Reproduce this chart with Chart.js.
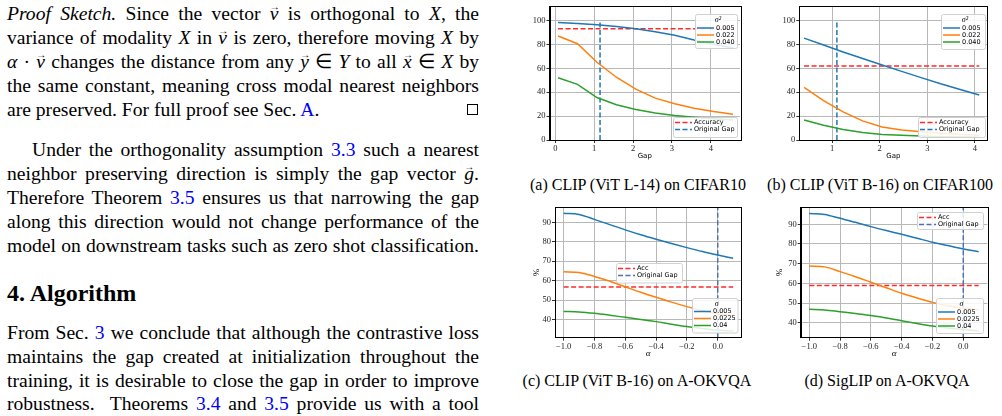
<!DOCTYPE html>
<html>
<head>
<meta charset="utf-8">
<script src="https://cdn.jsdelivr.net/npm/chart.js@4.4.1/dist/chart.umd.min.js"></script>
<style>
    html, body { margin: 0; padding: 0; background: #fff; }
    body { width: 1002px; height: 416px; overflow: hidden; position: relative; font-family: "Liberation Serif", "Times New Roman", serif; color: #000; }
    .ln { position: absolute; left: 7px; width: 472px; font-size: 19.6px; line-height: 24px; height: 24px; white-space: nowrap; }
    .ln.ind { left: 32px; width: 447px; }
    .ln a { color: #0000ff; text-decoration: none; }
    .h { position: absolute; left: 7px; top: 281px; font-size: 24px; line-height: 24px; font-weight: bold; }
    .v { position: relative; display: inline-block; font-style: italic; }
    .v::before { content: "\2192"; position: absolute; left: 0; right: 0; top: 1px; line-height: 8px; text-align: center; font-size: 10px; font-style: normal; }
    .cal { font-style: italic; }
    .qed { position: absolute; left: 467px; top: 104px; width: 11px; height: 11px; border: 1px solid #000; box-sizing: border-box; }
    .cap { position: absolute; font-size: 16px; line-height: 20px; white-space: nowrap; transform: translateX(-50%); }
    canvas { position: absolute; }
</style>
</head>
<body>

<div class="ln" style="top:2px"><i>Proof Sketch.</i> Since the vector <span class="v">v</span> is orthogonal to <span class="cal">X</span>, the</div>
<div class="ln" style="top:26px">variance of modality <span class="cal">X</span> in <span class="v">v</span> is zero, therefore moving <span class="cal">X</span> by</div>
<div class="ln" style="top:50px"><i>α</i> · <span class="v">v</span> changes the distance from any <span class="v">y</span> ∈ <span class="cal">Y</span> to all <span class="v">x</span> ∈ <span class="cal">X</span> by</div>
<div class="ln" style="top:74px">the same constant, meaning cross modal nearest neighbors</div>
<div class="ln last" style="top:98px">are preserved. For full proof see Sec. <a>A</a>.</div>
<div class="qed"></div>

<div class="ln ind" style="top:138px">Under the orthogonality assumption <a>3.3</a> such a nearest</div>
<div class="ln" style="top:162px">neighbor preserving direction is simply the gap vector <span class="v">g</span>.</div>
<div class="ln" style="top:186px">Therefore Theorem <a>3.5</a> ensures us that narrowing the gap</div>
<div class="ln" style="top:210px">along this direction would not change performance of the</div>
<div class="ln" style="top:234px">model on downstream tasks such as zero shot classification.</div>

<div class="h">4. Algorithm</div>

<div class="ln" style="top:321px">From Sec. <a>3</a> we conclude that although the contrastive loss</div>
<div class="ln" style="top:345px">maintains the gap created at initialization throughout the</div>
<div class="ln" style="top:369px">training, it is desirable to close the gap in order to improve</div>
<div class="ln" style="top:392px">robustness.&nbsp; Theorems <a>3.4</a> and <a>3.5</a> provide us with a tool</div>

<canvas id="chartA" width="240" height="165" style="left:510px;top:0px"></canvas>
<canvas id="chartB" width="242" height="165" style="left:760px;top:0px"></canvas>
<canvas id="chartC" width="240" height="165" style="left:510px;top:195px"></canvas>
<canvas id="chartD" width="242" height="165" style="left:760px;top:195px"></canvas>

<div class="cap" style="left:638px;top:175px">(a) CLIP (ViT L-14) on CIFAR10</div>
<div class="cap" style="left:880px;top:175px">(b) CLIP (ViT B-16) on CIFAR100</div>
<div class="cap" style="left:637px;top:371px">(c) CLIP (ViT B-16) on A-OKVQA</div>
<div class="cap" style="left:887px;top:371px">(d) SigLIP on A-OKVQA</div>

<script>
// (a) CLIP ViT L-14 / CIFAR10
const gapA = [0.07, 0.57, 1.07, 1.57, 2.07, 2.57, 3.07, 3.57, 4.07, 4.57];
const a005 = [98.3, 97.5, 96.4, 95.0, 93.1, 90.6, 87.6, 83.6, 80.0, 77.0];
const a022 = [87.0, 80.5, 65.0, 52.5, 42.5, 35.0, 30.3, 26.5, 23.8, 21.6];
const a040 = [52.0, 46.5, 35.5, 29.5, 25.5, 22.5, 20.5, 19.0, 17.8, 16.8];
const accA = 93;
const origGapA = 1.15;

// (b) CLIP ViT B-16 / CIFAR100
const gapB = [0.41, 0.82, 1.23, 1.64, 2.05, 2.46, 2.87, 3.28, 3.69, 4.09];
const b005 = [85.2, 79.4, 73.6, 68.1, 62.8, 57.4, 52.2, 47.0, 42.2, 37.6];
const b022 = [44.0, 33.0, 23.5, 16.0, 10.8, 8.3, 6.8, 5.6, 4.7, 4.0];
const b040 = [16.8, 12.3, 8.8, 6.3, 4.7, 3.9, 3.3, 2.8, 2.5, 2.2];
const accB = 62;
const origGapB = 1.1;

// (c) CLIP ViT B-16 / A-OKVQA
const alpha = [-1.0, -0.9, -0.8, -0.7, -0.6, -0.5, -0.4, -0.3, -0.2, -0.1, 0.0, 0.1];
const c005 = [94.6, 94.0, 91.5, 88.8, 86.1, 83.6, 81.3, 79.1, 77.0, 75.0, 73.2, 71.5];
const c0225 = [64.6, 64.2, 62.2, 59.7, 56.9, 54.1, 51.5, 49.0, 46.7, 44.7, 43.0, 42.2];
const c04 = [44.2, 44.0, 43.3, 42.3, 41.2, 40.1, 39.0, 37.7, 36.5, 35.5, 34.6, 34.2];
const accC = 56.8;

// (d) SigLIP / A-OKVQA
const d005 = [95.5, 95.0, 93.0, 91.0, 88.8, 86.8, 84.9, 82.9, 80.9, 79.2, 77.5, 76.1];
const d0225 = [68.8, 68.4, 66.0, 63.4, 60.6, 57.8, 55.0, 52.6, 50.4, 48.7, 47.4, 46.6];
const d04 = [46.9, 46.6, 45.7, 44.8, 43.7, 42.5, 41.1, 39.7, 38.4, 37.4, 36.6, 36.0];
const accD = 59;
const origGapCD = 0.0;

const BLUE = '#1f77b4', ORANGE = '#ff7f0e', GREEN = '#2ca02c', RED = '#ff2a2a';

// justify each text line to the column width (keeps the original line breaks)
document.querySelectorAll('.ln').forEach(el => {
    if (el.classList.contains('last')) return;
    const target = el.clientWidth;
    const range = document.createRange();
    range.selectNodeContents(el);
    const natural = range.getBoundingClientRect().width;
    const spaces = (el.textContent.match(/[ \u00a0]/g) || []).length;
    if (spaces) el.style.wordSpacing = ((target - natural) / spaces) + 'px';
});

function series(label, xs, ys, color, extra) {
    return Object.assign({
        label: label,
        data: xs.map((x, i) => ({ x: x, y: ys[i] })),
        borderColor: color,
        borderWidth: 1.5,
        pointRadius: 0,
        fill: false,
        tension: 0
    }, extra || {});
}

function hLine(label, xs, y, color) {
    return series(label, [xs[0], xs[xs.length - 1]], [y, y], color, { borderDash: [5, 2.5] });
}

function vLine(label, x, y0, y1, color) {
    return series(label, [x, x], [y0, y1], color, { borderDash: [5, 2.5] });
}

// frame + matplotlib style legend boxes
const boxLegend = {
    id: 'boxLegend',
    afterDatasetsDraw(chart, args, opts) {
        const ctx = chart.ctx, a = chart.chartArea;
        ctx.save();
        ctx.strokeStyle = '#000';
        ctx.lineWidth = 1;
        ctx.strokeRect(Math.round(a.left) + 0.5, Math.round(a.top) + 0.5, Math.round(a.right - a.left), Math.round(a.bottom - a.top));
        (opts.boxes || []).forEach(b => {
            ctx.beginPath();
            ctx.roundRect(b.x + 0.5, b.y + 0.5, b.w, b.h, 2);
            ctx.fillStyle = 'rgba(255,255,255,0.85)';
            ctx.fill();
            ctx.strokeStyle = '#d0d0d0';
            ctx.lineWidth = 1;
            ctx.stroke();
            ctx.textBaseline = 'middle';
            if (b.title) {
                ctx.font = 'italic 8px "Liberation Serif"';
                ctx.fillStyle = '#000';
                ctx.textAlign = 'center';
                ctx.fillText(b.title, b.x + b.w / 2 + 2, b.y + 6);
            }
            b.items.forEach((di, k) => {
                const ds = chart.data.datasets[di];
                const yy = b.y + b.first + k * 7;
                ctx.beginPath();
                ctx.setLineDash(ds.borderDash || []);
                ctx.strokeStyle = ds.borderColor;
                ctx.lineWidth = 1.5;
                ctx.moveTo(b.x + 2, yy);
                ctx.lineTo(b.x + 19, yy);
                ctx.stroke();
                ctx.setLineDash([]);
                ctx.font = '6.5px "DejaVu Sans"';
                ctx.textAlign = 'left';
                ctx.fillStyle = '#000';
                ctx.fillText(ds.label, b.x + 21, yy);
            });
        });
        ctx.restore();
    }
};

const tickFont = { family: 'Liberation Serif', size: 8.5 };
const gridOpts = { color: '#b8b8b8', lineWidth: 1, tickColor: '#000', tickLength: 3, tickWidth: 0.8 };

function fmtAlpha(v) {
    if (Math.abs(v) < 1e-9) return '0.0';
    return v.toFixed(1).replace('-', '\u2212');
}

function makeChart(id, p) {
    new Chart(document.getElementById(id), {
        type: 'line',
        data: { datasets: p.datasets },
        plugins: [boxLegend],
        options: {
            responsive: false,
            animation: false,
            events: [],
            layout: { padding: p.padding },
            plugins: {
                legend: { display: false },
                tooltip: { enabled: false },
                boxLegend: { boxes: p.boxes }
            },
            scales: {
                x: {
                    type: 'linear',
                    min: p.xMin, max: p.xMax,
                    grid: gridOpts,
                    border: { color: '#000' },
                    afterFit: s => { s.height = p.xH; },
                    ticks: {
                        stepSize: p.xStep, includeBounds: false, padding: 1, maxRotation: 0,
                        color: '#222', font: tickFont,
                        callback: p.xFmt
                    },
                    title: { display: true, text: p.xTitle, color: '#000', font: p.xTitleFont, padding: { top: 0, bottom: p.xTitlePad } }
                },
                y: {
                    min: p.yMin, max: p.yMax,
                    grid: gridOpts,
                    border: { color: '#000' },
                    afterFit: s => { s.width = p.yW; },
                    ticks: { stepSize: p.yStep, includeBounds: false, padding: 1, color: '#222', font: tickFont },
                    title: p.yTitle ? { display: true, text: p.yTitle, color: '#000', font: { family: 'Liberation Serif', size: 9, lineHeight: 1 }, padding: { top: p.yTitlePad, bottom: 0 } } : { display: false }
                }
            }
        }
    });
}

const gapFont = { family: 'DejaVu Sans', size: 7, lineHeight: 1 };
const alphaFont = { family: 'Liberation Serif', size: 9, style: 'italic', lineHeight: 1 };

makeChart('chartA', {
    datasets: [
        series('0.005', gapA, a005, BLUE),
        series('0.022', gapA, a022, ORANGE),
        series('0.040', gapA, a040, GREEN),
        hLine('Accuracy', gapA, accA, RED),
        vLine('Original Gap', origGapA, 0, 100, BLUE)
    ],
    padding: { left: 0, right: 10, top: 2, bottom: 0 },
    xMin: -0.15, xMax: 4.75, xStep: 1, xH: 25, xTitle: 'Gap', xTitleFont: gapFont, xTitlePad: 5,
    xFmt: v => String(v),
    yMin: 0, yMax: 112, yStep: 20, yW: 39.5,
    boxes: [
        { x: 185, y: 14, w: 42, h: 34, first: 14, title: '\u03c3\u00b2', items: [0, 1, 2] },
        { x: 163, y: 117, w: 64, h: 20, first: 5.5, items: [3, 4] }
    ]
});

makeChart('chartB', {
    datasets: [
        series('0.005', gapB, b005, BLUE),
        series('0.022', gapB, b022, ORANGE),
        series('0.040', gapB, b040, GREEN),
        hLine('Accuracy', gapB, accB, RED),
        vLine('Original Gap', origGapB, 0, 100, BLUE)
    ],
    padding: { left: 0, right: 14.7, top: 2, bottom: 0 },
    xMin: 0.31, xMax: 4.26, xStep: 1, xH: 25, xTitle: 'Gap', xTitleFont: gapFont, xTitlePad: 5,
    xFmt: v => String(v),
    yMin: 0, yMax: 112, yStep: 20, yW: 39.3,
    boxes: [
        { x: 181, y: 14, w: 44, h: 35, first: 14, title: '\u03c3\u00b2', items: [0, 1, 2] },
        { x: 158, y: 117, w: 67, h: 20, first: 5.5, items: [3, 4] }
    ]
});

makeChart('chartC', {
    datasets: [
        series('0.005', alpha, c005, BLUE, { cubicInterpolationMode: 'monotone' }),
        series('0.0225', alpha, c0225, ORANGE, { cubicInterpolationMode: 'monotone' }),
        series('0.04', alpha, c04, GREEN, { cubicInterpolationMode: 'monotone' }),
        hLine('Acc', alpha, accC, RED),
        vLine('Original Gap', origGapCD, 30.75, 97.7, '#4c72b0')
    ],
    padding: { left: 0, right: 8.7, top: 12.3, bottom: 0 },
    xMin: -1.056, xMax: 0.153, xStep: 0.2, xH: 22.3, xTitle: '\u03b1', xTitleFont: alphaFont, xTitlePad: 2,
    xFmt: fmtAlpha,
    yMin: 30.75, yMax: 97.7, yStep: 10, yW: 45, yTitle: '%', yTitlePad: 22.5,
    boxes: [
        { x: 106, y: 68, w: 66, h: 19.5, first: 5.5, items: [3, 4] },
        { x: 182, y: 103, w: 45.5, h: 34.5, first: 13.5, title: '\u03c3', items: [0, 1, 2] }
    ]
});

makeChart('chartD', {
    datasets: [
        series('0.005', alpha, d005, BLUE, { cubicInterpolationMode: 'monotone' }),
        series('0.0225', alpha, d0225, ORANGE, { cubicInterpolationMode: 'monotone' }),
        series('0.04', alpha, d04, GREEN, { cubicInterpolationMode: 'monotone' }),
        hLine('Acc', alpha, accD, RED),
        vLine('Original Gap', origGapCD, 32.5, 98.6, '#4c72b0')
    ],
    padding: { left: 0, right: 14.7, top: 12.3, bottom: 0 },
    xMin: -1.056, xMax: 0.156, xStep: 0.2, xH: 22.3, xTitle: '\u03b1', xTitleFont: alphaFont, xTitlePad: 2,
    xFmt: fmtAlpha,
    yMin: 32.5, yMax: 98.6, yStep: 10, yW: 40.7, yTitle: '%', yTitlePad: 15,
    boxes: [
        { x: 157, y: 17, w: 66, h: 17, first: 5.5, items: [3, 4] },
        { x: 176, y: 103, w: 47, h: 35, first: 14, title: '\u03c3', items: [0, 1, 2] }
    ]
});
</script>
</body>
</html>
